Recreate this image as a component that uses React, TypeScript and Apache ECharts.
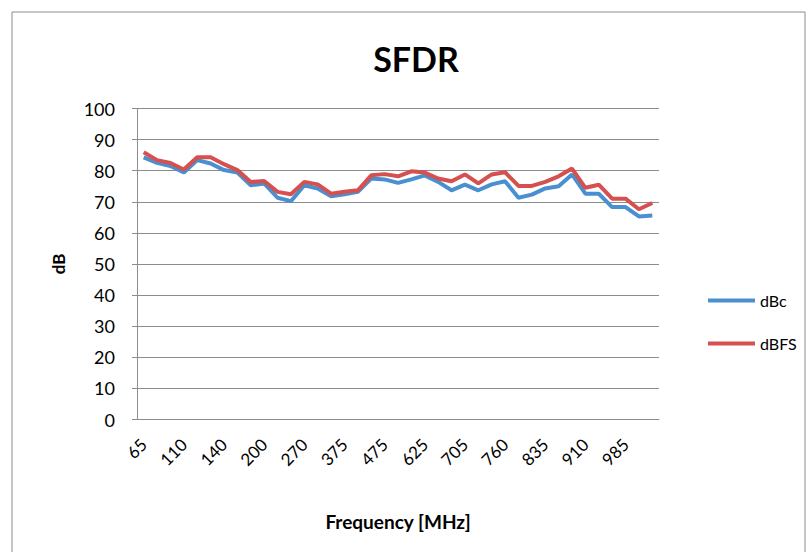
import React, { useEffect, useRef } from "react";
import * as echarts from "echarts";

const frequencies = [
  "65", "80", "95", "110", "120", "130", "140", "160", "180", "200",
  "225", "250", "270", "305", "340", "375", "410", "440", "475", "525",
  "575", "625", "650", "680", "705", "725", "740", "760", "785", "810",
  "835", "860", "885", "910", "935", "960", "985", "1000", "1010",
];

const dBc = [
  84.3, 82.5, 81.5, 79.4, 83.4, 82.3, 80.2, 79.4, 75.3, 75.9,
  71.3, 70.2, 75.3, 74.3, 71.8, 72.4, 73.2, 77.5, 77.2, 76.1,
  77.2, 78.5, 76.4, 73.7, 75.5, 73.7, 75.6, 76.6, 71.3, 72.3,
  74.3, 75.0, 78.8, 72.6, 72.6, 68.3, 68.3, 65.3, 65.6,
];

const dBFS = [
  85.9, 83.4, 82.5, 80.4, 84.3, 84.3, 82.1, 80.2, 76.4, 76.7,
  73.2, 72.4, 76.4, 75.6, 72.6, 73.2, 73.7, 78.5, 78.9, 78.2,
  79.8, 79.4, 77.5, 76.6, 78.8, 75.9, 78.8, 79.5, 75.1, 75.1,
  76.4, 78.2, 80.7, 74.5, 75.5, 71.0, 71.0, 67.6, 69.6,
];

const FONT = "Lato, 'Open Sans', sans-serif";
const GRID = "#8c8c8c";

export default function App() {
  const ref = useRef<HTMLDivElement>(null);
  useEffect(() => {
    if (!ref.current) return;
    const chart = echarts.init(ref.current, null, { renderer: "svg" });
    chart.setOption({
      animation: false,
      backgroundColor: "#ffffff",
      title: {
        text: "SFDR",
        left: 411,
        textAlign: "center",
        top: 36,
        textStyle: { fontFamily: FONT, fontSize: 34, fontWeight: "bold", color: "#000" },
      },
      graphic: [
        {
          type: "rect",
          shape: { x: 12, y: 12, width: 793, height: 600 },
          style: { fill: "none", stroke: "#8c8c8c", lineWidth: 1 },
          silent: true,
        },
      ],
      legend: {
        orient: "vertical",
        left: 703,
        top: 286,
        itemGap: 24,
        itemWidth: 47,
        itemHeight: 4,
        icon: "rect",
        textStyle: { fontFamily: FONT, fontSize: 16, color: "#000", lineHeight: 19 },
        data: ["dBc", "dBFS"],
      },
      grid: { left: 137, top: 108.5, width: 522, height: 311 },
      xAxis: {
        type: "category",
        data: frequencies,
        boundaryGap: true,
        name: "Frequency [MHz]",
        nameLocation: "middle",
        nameGap: 92,
        nameTextStyle: { fontFamily: FONT, fontSize: 19, fontWeight: "bold", color: "#000" },
        axisLine: { lineStyle: { color: GRID, width: 1 } },
        axisTick: { show: false },
        axisLabel: {
          interval: 2,
          rotate: 45,
          margin: 22,
          fontFamily: FONT,
          fontSize: 17,
          color: "#000",
        },
      },
      yAxis: {
        type: "value",
        min: 0,
        max: 100,
        interval: 10,
        name: "dB",
        nameLocation: "middle",
        nameGap: 70,
        nameRotate: 90,
        nameTextStyle: { fontFamily: FONT, fontSize: 17, fontWeight: "bold", color: "#000" },
        axisLine: { show: true, lineStyle: { color: GRID, width: 1 } },
        axisTick: { show: true, length: 5, lineStyle: { color: GRID } },
        splitLine: { lineStyle: { color: GRID, width: 1 } },
        axisLabel: { fontFamily: FONT, fontSize: 18, color: "#000", margin: 22 },
      },
      series: [
        {
          name: "dBc",
          type: "line",
          data: dBc,
          symbol: "none",
          lineStyle: { color: "#4a8fcf", width: 4 },
          itemStyle: { color: "#4a8fcf" },
        },
        {
          name: "dBFS",
          type: "line",
          data: dBFS,
          symbol: "none",
          lineStyle: { color: "#d65050", width: 4 },
          itemStyle: { color: "#d65050" },
        },
      ],
    });
    return () => chart.dispose();
  }, []);
  return (
    <div
      ref={ref}
      style={{ position: "fixed", left: 0, top: 0, width: 807, height: 552 }}
    />
  );
}
